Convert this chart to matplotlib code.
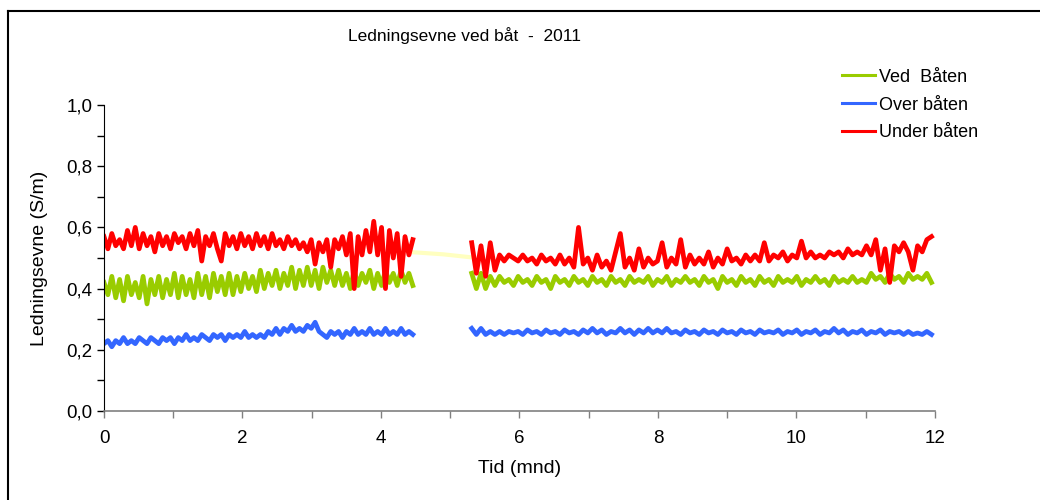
import matplotlib.pyplot as plt
import numpy as np
from matplotlib.lines import Line2D

plt.rcParams['font.family'] = ['Liberation Sans', 'DejaVu Sans']

# tid (mnd): to måleperioder med et opphold
t1_start, t1_end = 0.0, 4.46
t2_start, t2_end = 5.31, 11.95

# Under båten
red1 = [0.57,0.53,0.58,0.54,0.56,0.53,0.59,0.54,0.60,0.53,
        0.58,0.54,0.57,0.52,0.58,0.54,0.57,0.53,0.58,0.55,
        0.57,0.53,0.58,0.54,0.59,0.49,0.57,0.54,0.58,0.53,
        0.49,0.58,0.54,0.57,0.53,0.58,0.54,0.57,0.53,0.58,
        0.54,0.57,0.53,0.58,0.54,0.56,0.53,0.57,0.54,0.56,
        0.53,0.55,0.52,0.56,0.48,0.55,0.52,0.56,0.47,0.56,
        0.53,0.57,0.51,0.58,0.40,0.57,0.51,0.59,0.52,0.62,
        0.51,0.60,0.40,0.59,0.50,0.58,0.44,0.57,0.51,0.56]
red2 = [0.55,0.45,0.54,0.44,0.55,0.46,0.51,0.49,0.51,0.50,
        0.49,0.51,0.49,0.50,0.48,0.51,0.49,0.50,0.48,0.51,
        0.48,0.50,0.47,0.60,0.48,0.50,0.46,0.51,0.47,0.49,
        0.46,0.52,0.58,0.47,0.50,0.46,0.53,0.47,0.50,0.48,
        0.49,0.55,0.47,0.50,0.48,0.56,0.47,0.51,0.48,0.50,
        0.48,0.52,0.47,0.50,0.48,0.53,0.49,0.50,0.48,0.51,
        0.49,0.51,0.49,0.55,0.49,0.51,0.50,0.52,0.49,0.51,
        0.50,0.555,0.50,0.52,0.50,0.51,0.50,0.52,0.51,0.52,
        0.50,0.53,0.51,0.52,0.51,0.54,0.51,0.56,0.46,0.53,
        0.42,0.54,0.52,0.55,0.52,0.46,0.54,0.52,0.56,0.57]

# Ved båten
green1 = [0.42,0.38,0.44,0.37,0.43,0.36,0.44,0.38,0.42,0.37,
          0.44,0.35,0.43,0.38,0.44,0.37,0.43,0.38,0.45,0.37,
          0.44,0.38,0.43,0.37,0.45,0.38,0.44,0.37,0.45,0.39,
          0.44,0.38,0.45,0.38,0.44,0.39,0.45,0.40,0.44,0.39,
          0.46,0.40,0.45,0.41,0.46,0.40,0.45,0.41,0.47,0.40,
          0.46,0.41,0.47,0.41,0.46,0.40,0.47,0.42,0.46,0.41,
          0.46,0.41,0.45,0.40,0.46,0.41,0.45,0.42,0.46,0.40,
          0.45,0.41,0.46,0.42,0.45,0.41,0.46,0.42,0.45,0.41]
green2 = [0.45,0.40,0.45,0.40,0.44,0.41,0.44,0.42,0.43,0.41,
          0.44,0.42,0.43,0.41,0.44,0.42,0.43,0.40,0.44,0.42,
          0.43,0.41,0.44,0.42,0.43,0.41,0.44,0.42,0.43,0.41,
          0.44,0.42,0.43,0.41,0.44,0.42,0.43,0.42,0.44,0.41,
          0.43,0.42,0.44,0.41,0.43,0.42,0.44,0.42,0.43,0.41,
          0.44,0.42,0.43,0.40,0.44,0.42,0.43,0.41,0.44,0.42,
          0.43,0.41,0.44,0.42,0.43,0.41,0.44,0.42,0.43,0.42,
          0.44,0.41,0.43,0.42,0.44,0.42,0.43,0.41,0.44,0.42,
          0.43,0.42,0.44,0.42,0.43,0.42,0.45,0.43,0.44,0.42,
          0.45,0.43,0.44,0.42,0.45,0.43,0.44,0.43,0.45,0.42]

# Over båten
blue1 = [0.22,0.23,0.21,0.23,0.22,0.24,0.22,0.23,0.22,0.24,
         0.23,0.22,0.24,0.23,0.22,0.24,0.23,0.24,0.22,0.24,
         0.23,0.25,0.23,0.24,0.23,0.25,0.24,0.23,0.25,0.24,
         0.25,0.23,0.25,0.24,0.25,0.24,0.26,0.24,0.25,0.24,
         0.25,0.24,0.26,0.25,0.27,0.25,0.27,0.26,0.28,0.26,
         0.27,0.26,0.28,0.27,0.29,0.26,0.25,0.24,0.26,0.25,
         0.26,0.24,0.26,0.25,0.27,0.25,0.26,0.25,0.27,0.25,
         0.26,0.25,0.27,0.25,0.26,0.25,0.27,0.25,0.26,0.25]
blue2 = [0.27,0.25,0.27,0.25,0.26,0.25,0.26,0.25,0.26,0.255,
         0.26,0.25,0.265,0.255,0.26,0.25,0.265,0.255,0.26,0.25,
         0.265,0.255,0.26,0.25,0.265,0.255,0.27,0.255,0.265,0.25,
         0.26,0.255,0.27,0.255,0.265,0.25,0.265,0.255,0.27,0.255,
         0.265,0.255,0.27,0.255,0.26,0.25,0.265,0.255,0.26,0.25,
         0.265,0.255,0.26,0.25,0.265,0.255,0.26,0.25,0.265,0.255,
         0.26,0.25,0.265,0.255,0.26,0.255,0.265,0.25,0.26,0.255,
         0.265,0.25,0.26,0.255,0.265,0.25,0.26,0.255,0.27,0.255,
         0.265,0.25,0.26,0.255,0.265,0.25,0.26,0.255,0.265,0.25,
         0.26,0.255,0.26,0.25,0.26,0.25,0.255,0.25,0.26,0.25]

# svak linje over oppholdet
gap_t = [4.45, 4.9, 5.31]
gap_v = [0.519, 0.512, 0.502]

c_green = '#99cc00'
c_blue = '#3366ff'
c_red = '#ff0000'

t1 = np.linspace(t1_start, t1_end, len(red1))
t2 = np.linspace(t2_start, t2_end, len(red2))

fig = plt.figure(figsize=(10.4, 5.0), dpi=100)
ax = fig.add_axes([0.1, 0.178, 0.799, 0.612])

ax.plot(gap_t, gap_v, color='#ffffc0', lw=3)
lw = 3.4
ax.plot(t1, green1, color=c_green, lw=lw, label='Ved  Båten')
ax.plot(t2, green2, color=c_green, lw=lw)
ax.plot(t1, blue1, color=c_blue, lw=lw, label='Over båten')
ax.plot(t2, blue2, color=c_blue, lw=lw)
ax.plot(t1, red1, color=c_red, lw=lw, label='Under båten')
ax.plot(t2, red2, color=c_red, lw=lw)

ax.set_xlim(0, 12)
ax.set_ylim(0, 1.0)
ax.set_xticks(np.arange(0, 13, 2))
ax.set_xticks(np.arange(0, 13, 1), minor=True)
ax.set_yticks(np.arange(0, 1.01, 0.2))
ax.set_yticks(np.arange(0, 1.01, 0.1), minor=True)
ax.set_yticklabels(['0,0', '0,2', '0,4', '0,6', '0,8', '1,0'])
ax.tick_params(axis='both', which='both', direction='out', labelsize=13.5, length=5, width=1)
ax.tick_params(axis='x', which='both', colors='#808080', labelcolor='black')
ax.tick_params(axis='x', pad=9)
ax.spines['top'].set_visible(False)
ax.spines['right'].set_visible(False)
ax.spines['bottom'].set_color('#808080')
ax.spines['bottom'].set_linewidth(1.2)

ax.set_xlabel('Tid (mnd)', fontsize=14, labelpad=9)
ax.set_ylabel('Ledningsevne (S/m)', fontsize=14, labelpad=13)

fig.text(0.447, 0.928, 'Ledningsevne ved båt  -  2011', ha='center', va='center', fontsize=12.5)

leg = ax.legend(loc='upper left', bbox_to_anchor=(0.794, 0.895), bbox_transform=fig.transFigure,
                frameon=False, fontsize=13, handlelength=1.8, labelspacing=0.6,
                handletextpad=0.25)
for h in leg.get_lines():
    h.set_linewidth(2.2)

# ramme rundt diagrammet
fig.add_artist(Line2D([0.008, 1.0], [0.979, 0.979], color='black', lw=1.5, transform=fig.transFigure))
fig.add_artist(Line2D([0.008, 0.008], [0.0, 0.979], color='black', lw=1.5, transform=fig.transFigure))

fig.savefig('out.png', dpi=100)
